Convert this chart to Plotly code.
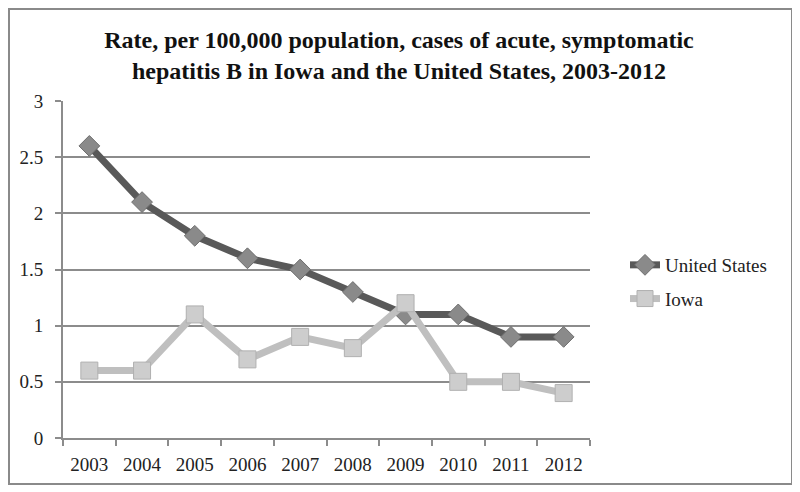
import plotly.graph_objects as go

years = ["2003", "2004", "2005", "2006", "2007", "2008", "2009", "2010", "2011", "2012"]
us_rate = [2.6, 2.1, 1.8, 1.6, 1.5, 1.3, 1.1, 1.1, 0.9, 0.9]
iowa_rate = [0.6, 0.6, 1.1, 0.7, 0.9, 0.8, 1.2, 0.5, 0.5, 0.4]
y_ticks = [0, 0.5, 1, 1.5, 2, 2.5, 3]
y_tick_text = ["0", "0.5", "1", "1.5", "2", "2.5", "3"]

FONT = "Liberation Serif, Times New Roman, serif"

fig = go.Figure()
fig.add_trace(go.Scatter(
    x=years, y=us_rate, name="United States", mode="lines+markers",
    legendgroup="us",
    line=dict(color="#595959", width=7),
    marker=dict(symbol="diamond", size=16, color="#8a8a8a",
                line=dict(color="#6e6e6e", width=1)),
))
fig.add_trace(go.Scatter(
    x=years, y=iowa_rate, name="Iowa", mode="lines+markers",
    legendgroup="ia",
    line=dict(color="#bfbfbf", width=7),
    marker=dict(symbol="square", size=17, color="#cdcdcd",
                line=dict(color="#b0b0b0", width=1)),
))

# page has an 8px body margin: figure coords = screen coords - 8
W, H = 800, 492
L, R, T, B = 55, 218, 93, 62
pw, ph = W - L - R, H - T - B

def px_x(x):
    return (x - L) / pw

def px_y(y):
    return (H - B - y) / ph

fig.update_layout(
    width=W, height=H,
    margin=dict(l=L, r=R, t=T, b=B),
    paper_bgcolor="white", plot_bgcolor="white",
    font=dict(family=FONT, size=19, color="#222"),
    title=dict(
        text="<b>Rate, per 100,000 population, cases of acute, symptomatic<br>hepatitis B in Iowa and the United States, 2003-2012</b>",
        x=391 / W, xanchor="center", xref="container",
        y=1 - 40 / H, yanchor="top", yref="container",
        font=dict(family=FONT, size=24, color="#111"),
    ),
    xaxis=dict(
        type="category", showgrid=False, showline=True, linecolor="#8c8c8c", linewidth=2,
        ticks="outside", tickson="boundaries", ticklen=6, tickcolor="#8c8c8c", tickwidth=2,
        tickfont=dict(family=FONT, size=19, color="#222"),
        ticklabelstandoff=8,
        range=[-0.5, 9.5],
    ),
    yaxis=dict(
        range=[0, 3], tickvals=y_ticks, ticktext=y_tick_text,
        showgrid=True, gridcolor="#8c8c8c", gridwidth=1.5,
        showline=True, linecolor="#8c8c8c", linewidth=2,
        ticks="outside", ticklen=6, tickcolor="#8c8c8c", tickwidth=2,
        tickfont=dict(family=FONT, size=19, color="#222"),
        ticklabelstandoff=8,
        zeroline=False,
    ),
    legend=dict(
        x=px_x(617), xanchor="left", y=px_y(274), yanchor="middle",
        font=dict(family=FONT, size=19, color="#222"),
        bgcolor="rgba(0,0,0,0)", itemwidth=30, tracegroupgap=6,
    ),
    showlegend=True,
)

fig.add_shape(
    type="rect", xref="paper", yref="paper",
    x0=px_x(1), x1=px_x(784), y0=px_y(476), y1=px_y(1),
    line=dict(color="#8a8a8a", width=2), fillcolor="rgba(0,0,0,0)", layer="below",
)

fig.write_html("out.html")
